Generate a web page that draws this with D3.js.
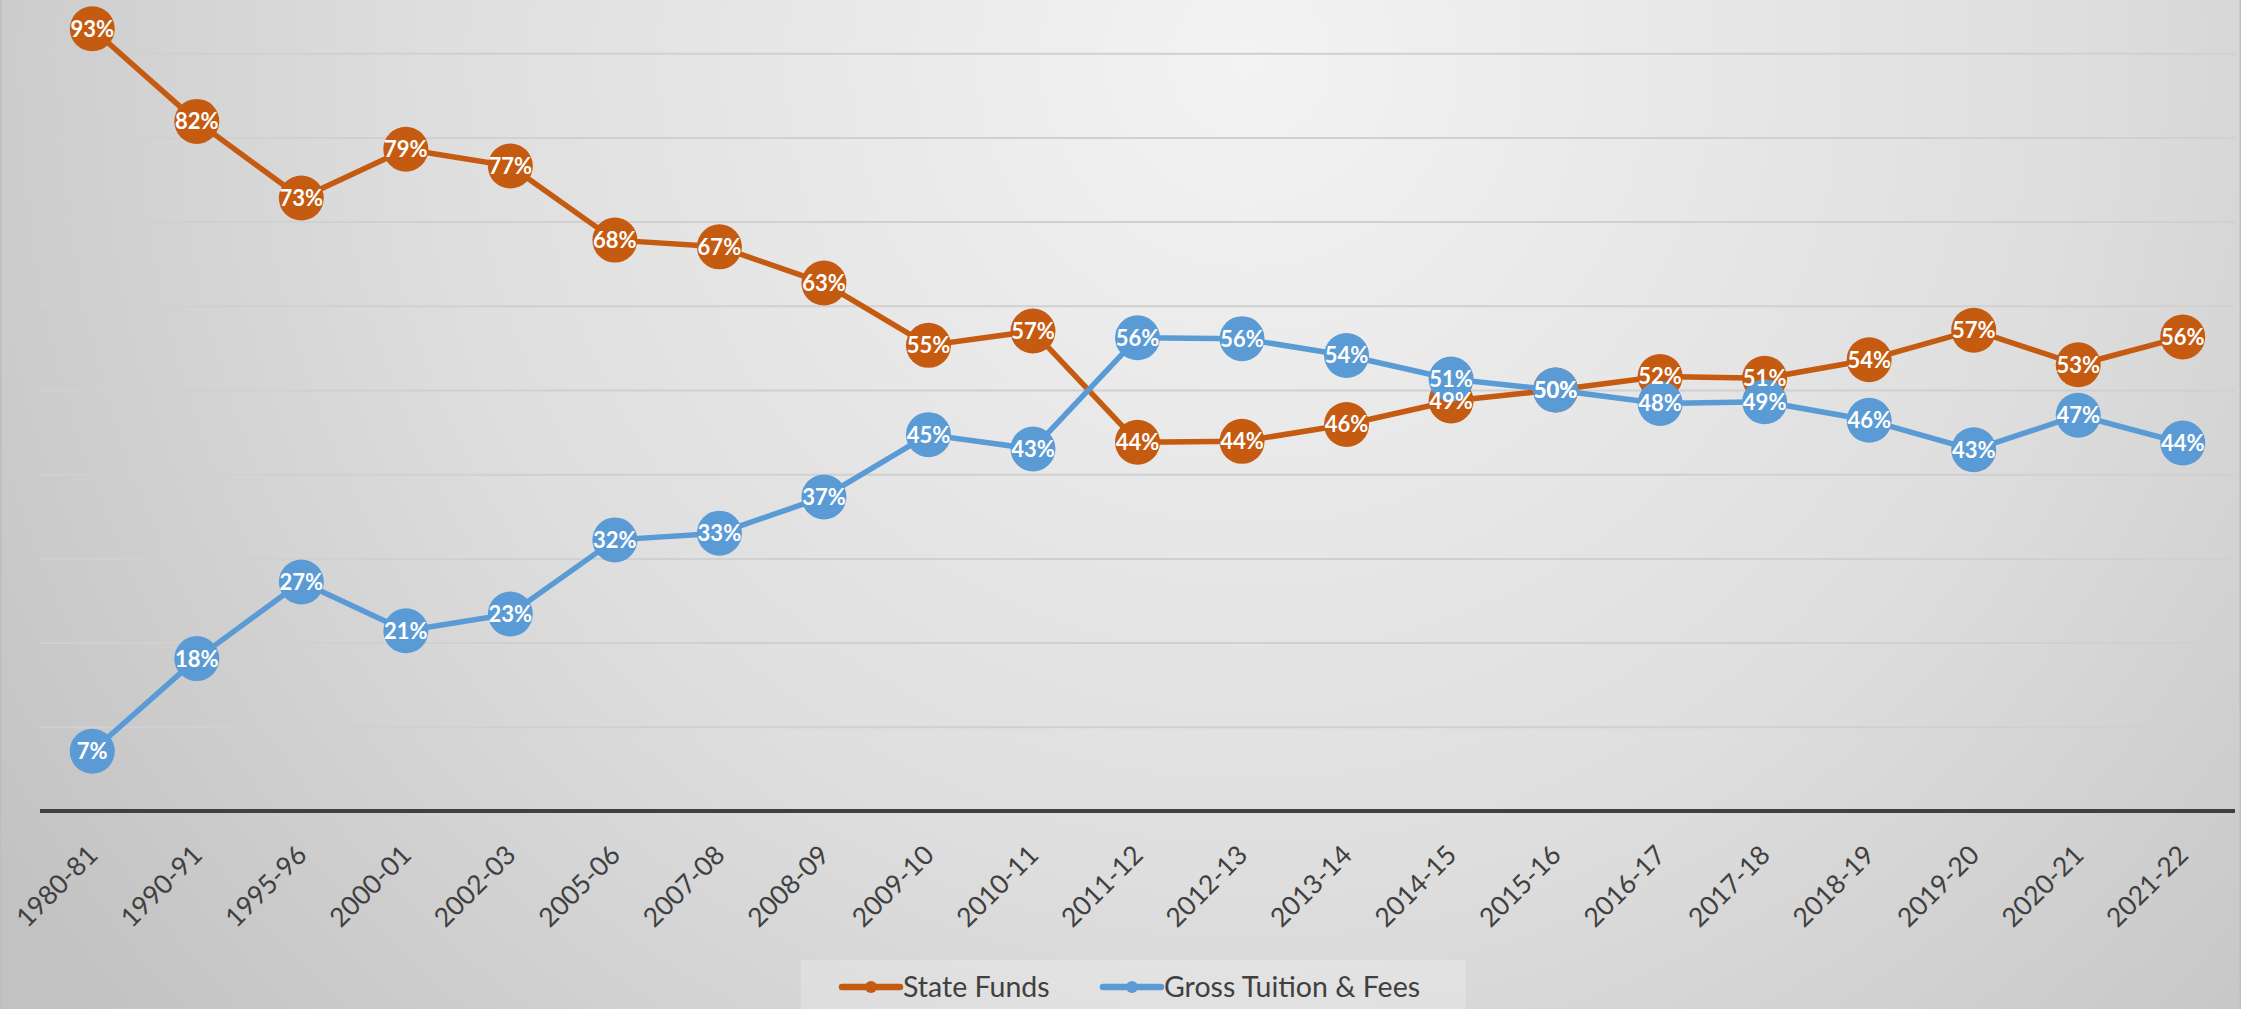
<!DOCTYPE html>
<html>
<head>
<meta charset="utf-8">
<script src="https://cdn.jsdelivr.net/npm/d3@7"></script>
<style>
  html, body { margin: 0; padding: 0; background: #d6d6d6; overflow: hidden; }
  svg { display: block; }
</style>
</head>
<body>
<svg id="chart" width="2241" height="1009"></svg>
<script>
// ---- data ----
const years = ["1980-81","1990-91","1995-96","2000-01","2002-03","2005-06","2007-08","2008-09","2009-10","2010-11",
               "2011-12","2012-13","2013-14","2014-15","2015-16","2016-17","2017-18","2018-19","2019-20","2020-21","2021-22"];
const stateFunds = [92.9, 81.9, 72.8, 78.6, 76.6, 67.8, 67.0, 62.7, 55.3, 57.0,
                    43.8, 43.9, 45.9, 48.7, 50.0, 51.6, 51.4, 53.6, 57.1, 53.0, 56.3];
const tuitionFees = [7.1, 18.1, 27.2, 21.4, 23.4, 32.2, 33.0, 37.3, 44.7, 43.0,
                     56.2, 56.1, 54.1, 51.3, 50.0, 48.4, 48.6, 46.4, 42.9, 47.0, 43.7];
const seriesNames = ["State Funds", "Gross Tuition & Fees"];
const yTicks = [10, 20, 30, 40, 50, 60, 70, 80, 90, 100];

// ---- layout ----
const W = 2241, H = 1009;
const plot = { left: 40, right: 2235, baseline: 811, top: -31 };
const colors = ["#C55A11", "#5B9BD5"];

const svg = d3.select("#chart");
const defs = svg.append("defs");

const bg = defs.append("radialGradient").attr("id", "bgGrad")
  .attr("gradientUnits", "userSpaceOnUse")
  .attr("cx", 1250).attr("cy", 60).attr("r", 1500);
bg.append("stop").attr("offset", "0").attr("stop-color", "#f3f3f3");
bg.append("stop").attr("offset", "0.55").attr("stop-color", "#dedede");
bg.append("stop").attr("offset", "1").attr("stop-color", "#c2c2c2");

const gridGrad = defs.append("linearGradient").attr("id", "gridGrad")
  .attr("gradientUnits", "userSpaceOnUse")
  .attr("x1", 0).attr("y1", 0).attr("x2", 0).attr("y2", plot.baseline);
gridGrad.append("stop").attr("offset", "0").attr("stop-color", "#d0d0d0");
gridGrad.append("stop").attr("offset", "0.45").attr("stop-color", "#bcbcbc");
gridGrad.append("stop").attr("offset", "1").attr("stop-color", "#7c7c7c");

svg.append("rect").attr("x", 0).attr("y", 0).attr("width", W).attr("height", H)
  .attr("fill", "url(#bgGrad)");
svg.append("rect").attr("x", 0.75).attr("y", -2).attr("width", W - 1.5).attr("height", H + 4)
  .attr("fill", "none").attr("stroke", "#bdbdbd").attr("stroke-width", 1.5);

// ---- scales ----
const x = d3.scalePoint().domain(years).range([plot.left, plot.right]).padding(0.5);
const y = d3.scaleLinear().domain([0, 100]).range([plot.baseline, plot.top]);

// gridlines
const yAxis = d3.axisLeft(y).tickValues(yTicks).tickSize(-(plot.right - plot.left)).tickFormat("");
const gy = svg.append("g").attr("transform", `translate(${plot.left},0)`).call(yAxis);
gy.select(".domain").remove();
gy.selectAll(".tick line").attr("stroke", "url(#gridGrad)").attr("stroke-width", 2);

// x axis
const xAxis = d3.axisBottom(x).tickSize(0).tickPadding(0);
const gx = svg.append("g").attr("transform", `translate(0,${plot.baseline})`).call(xAxis);
gx.select(".domain").attr("d", `M${plot.left},0H${plot.right}`)
  .attr("stroke", "#404040").attr("stroke-width", 4);
gx.selectAll(".tick text")
  .attr("font-family", "Lato, Calibri, Carlito, sans-serif")
  .attr("font-size", 26.5)
  .attr("fill", "#404040")
  .attr("text-anchor", "end")
  .attr("dy", "0.35em")
  .attr("y", 0)
  .attr("transform", "translate(0,39) rotate(-45)");

// ---- series ----
const fmt = d3.format(".0%");
const allSeries = [stateFunds, tuitionFees];
const line = d3.line().x((d, i) => x(years[i])).y(d => y(d));

allSeries.forEach((vals, si) => {
  const g = svg.append("g").attr("class", "series-" + si);
  g.append("path").datum(vals).attr("d", line)
    .attr("fill", "none").attr("stroke", colors[si]).attr("stroke-width", 5.5)
    .attr("stroke-linejoin", "round").attr("stroke-linecap", "round");
  g.selectAll("circle").data(vals).join("circle")
    .attr("cx", (d, i) => x(years[i])).attr("cy", d => y(d)).attr("r", 22.5)
    .attr("fill", colors[si]);
});

allSeries.forEach((vals, si) => {
  svg.append("g").selectAll("text").data(vals).join("text")
    .attr("x", (d, i) => x(years[i])).attr("y", d => y(d))
    .attr("dy", "0.36em")
    .attr("text-anchor", "middle")
    .attr("font-family", "Lato, Calibri, Carlito, sans-serif")
    .attr("font-weight", "bold")
    .attr("font-size", 22)
    .attr("fill", "#ffffff")
    .text(d => fmt(Math.round(d) / 100));
});

// ---- legend ----
const legend = svg.append("g");
legend.append("rect").attr("x", 801).attr("y", 960).attr("width", 665).attr("height", 60)
  .attr("fill", "#ffffff").attr("fill-opacity", 0.22);
const legendItems = [
  { name: seriesNames[0], color: colors[0], x0: 842 },
  { name: seriesNames[1], color: colors[1], x0: 1103 }
];
legendItems.forEach(it => {
  const g = legend.append("g").attr("transform", `translate(${it.x0},987)`);
  g.append("line").attr("x1", 0).attr("x2", 58).attr("y1", 0).attr("y2", 0)
    .attr("stroke", it.color).attr("stroke-width", 6.5).attr("stroke-linecap", "round");
  g.append("circle").attr("cx", 29).attr("cy", 0).attr("r", 6).attr("fill", it.color);
  g.append("text").attr("x", 61).attr("y", 0).attr("dy", "0.35em")
    .attr("font-family", "Lato, Calibri, Carlito, sans-serif")
    .attr("font-size", 28.5).attr("fill", "#404040")
    .text(it.name);
});
</script>
</body>
</html>
